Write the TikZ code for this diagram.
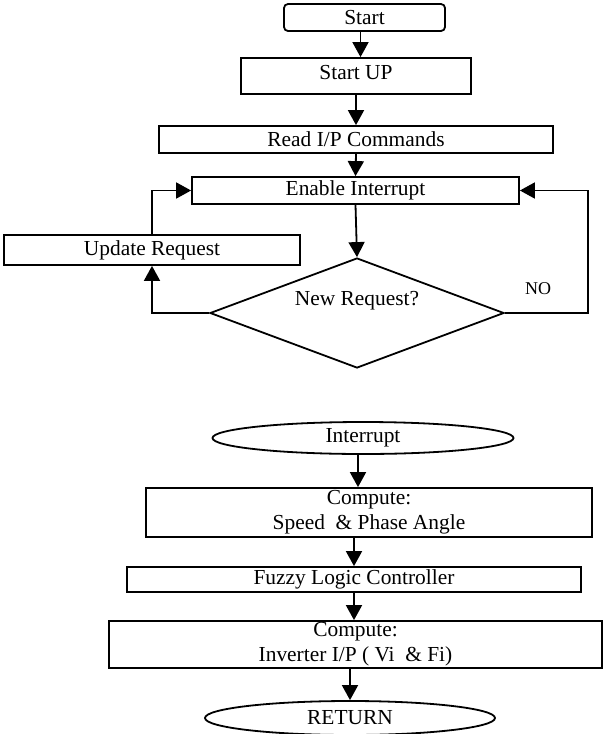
\documentclass[tikz,border=0pt]{standalone}
\usepackage{fontspec}
\setmainfont{Liberation Serif}
\usetikzlibrary{positioning,shapes,arrows.meta,calc}
\tikzset{>={Triangle[length=15pt,width=16pt]}}
\tikzset{
  box/.style={draw,line width=1.8pt,inner sep=0pt,align=center,font=\fontsize{21.4}{25}\selectfont},
  term/.style={box,ellipse},
  arr/.style={->,line width=1.8pt}
}

\begin{document}
\begin{tikzpicture}[x=1pt,y=-1pt]
        \useasboundingbox (0,0) rectangle (604,734);
        % main loop
        \node[box,rounded corners=4pt,minimum width=161pt,minimum height=27pt] at (364.5,17.5) (Start) {Start};
        \node[box,minimum width=230pt,minimum height=36pt,text depth=8pt] at (356,76) (StartUP) {Start UP};
        \node[box,minimum width=394pt,minimum height=27pt] at (356,139.5) (Read) {Read I/P Commands};
        \node[box,minimum width=327pt,minimum height=27pt] at (355.5,190.5) (Enable) {Enable Interrupt};
        \node[box,minimum width=296pt,minimum height=30pt] at (152,250) (Update) {Update Request};
        \node[box,diamond,aspect=2.67,text depth=30pt,minimum width=294pt,minimum height=110pt] at (357,313) (Dec) {New Request?};
        \node[font=\fontsize{18}{22}\selectfont,inner sep=0pt] at (538,289) (No) {NO};
        \draw[arr] ([xshift=-4pt]Start.south) -- ([xshift=-4pt]Start.south |- StartUP.north);
        \draw[arr] (StartUP.south) -- (Read.north);
        \draw[arr] (Read.south) -- (Enable.north);
        \draw[arr] (Enable.south) -- (Dec.north);
        \draw[arr] (Dec.west) -| (Update.south);
        \draw[arr] (Update.north) |- (Enable.west);
        \draw[arr] (Dec.east) -- ++(83,0) |- (Enable.east);
        % interrupt routine
        \node[term,minimum width=301pt,minimum height=32pt] at (363,438) (Interrupt) {Interrupt};
        \node[box,minimum width=446pt,minimum height=49pt] at (369,512.5) (Comp1) {Compute:\\Speed \ \& Phase Angle};
        \node[box,minimum width=454pt,minimum height=25pt] at (354,579.5) (Fuzzy) {Fuzzy Logic Controller};
        \node[box,minimum width=493pt,minimum height=47pt] at (355.5,644.5) (Comp2) {Compute:\\Inverter I/P ( Vi \ \& Fi)};
        \node[term,minimum width=290pt,minimum height=34pt] at (350,718) (Return) {RETURN};
        \draw[arr] ([xshift=-5pt]Interrupt.south) -- ([xshift=-5pt]Interrupt.south |- Comp1.north);
        \draw[arr] (Fuzzy.north |- Comp1.south) -- (Fuzzy.north);
        \draw[arr] (Fuzzy.south) -- (Fuzzy.south |- Comp2.north);
        \draw[arr] (Return.north |- Comp2.south) -- (Return.north);
    \end{tikzpicture}
\end{document}
